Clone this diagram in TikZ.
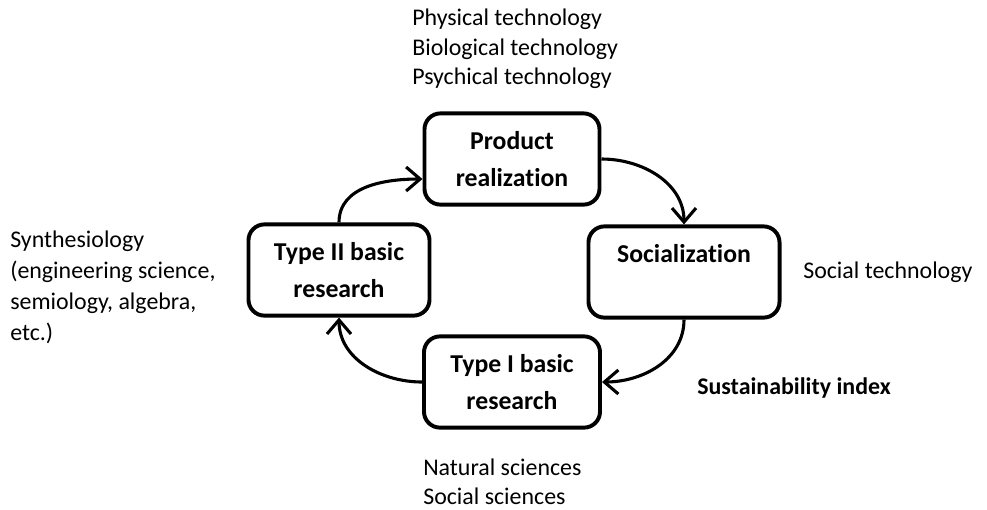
\documentclass[tikz,border=0pt]{standalone}
\usepackage{fontspec}
\setmainfont{Carlito}[Ligatures=NoCommon]
\usetikzlibrary{arrows.meta}

\begin{document}
\begin{tikzpicture}[x=0.025cm,y=-0.025cm,
    stage/.style={draw,line width=2.8pt,rounded corners=4mm,align=center,
      minimum height=2.28cm,font=\bfseries\fontsize{18.3}{26}\selectfont},
    note/.style={inner sep=0pt,anchor=west,align=left,
      font=\fontsize{17}{21}\selectfont},
    cyc/.style={line width=2.2pt,-{Straight Barb[length=3.5mm,width=6mm]}}]
  \useasboundingbox (0,0) rectangle (987,509);
  % the four stages of the cycle
  \node[stage,minimum width=4.375cm] (prod) at (512,159) {Product\\realization};
  \node[stage,minimum width=4.775cm] (soc) at (684,272) {Socialization\\\mbox{}};
  \node[stage,minimum width=4.4cm] (typeone) at (512,382) {Type I basic\\research};
  \node[stage,minimum width=4.525cm] (typetwo) at (339,270) {Type II basic\\research};
  % side notes
  \node[note] (tech) at (412,49) {Physical technology\\Biological technology\\Psychical technology};
  \node[note,font=\fontsize{17}{22}\selectfont] (synth) at (10,287) {Synthesiology\\(engineering science,\\semiology, algebra,\\etc.)};
  \node[note] (soctech) at (803,272) {Social technology};
  \node[note,font=\bfseries\fontsize{17}{21}\selectfont] (sust) at (697,388) {Sustainability index};
  \node[note] (sci) at (423,482) {Natural sciences\\Social sciences};
  % arrows round the cycle
  \draw[cyc] (typetwo.north) to[out=90,in=180] ([yshift=-5mm]prod.west);
  \draw[cyc] (prod.east) to[out=0,in=90] (soc.north);
  \draw[cyc] (soc.south) to[out=-90,in=0] (typeone.east);
  \draw[cyc] (typeone.west) to[out=180,in=-90] (typetwo.south);
\end{tikzpicture}
\end{document}
